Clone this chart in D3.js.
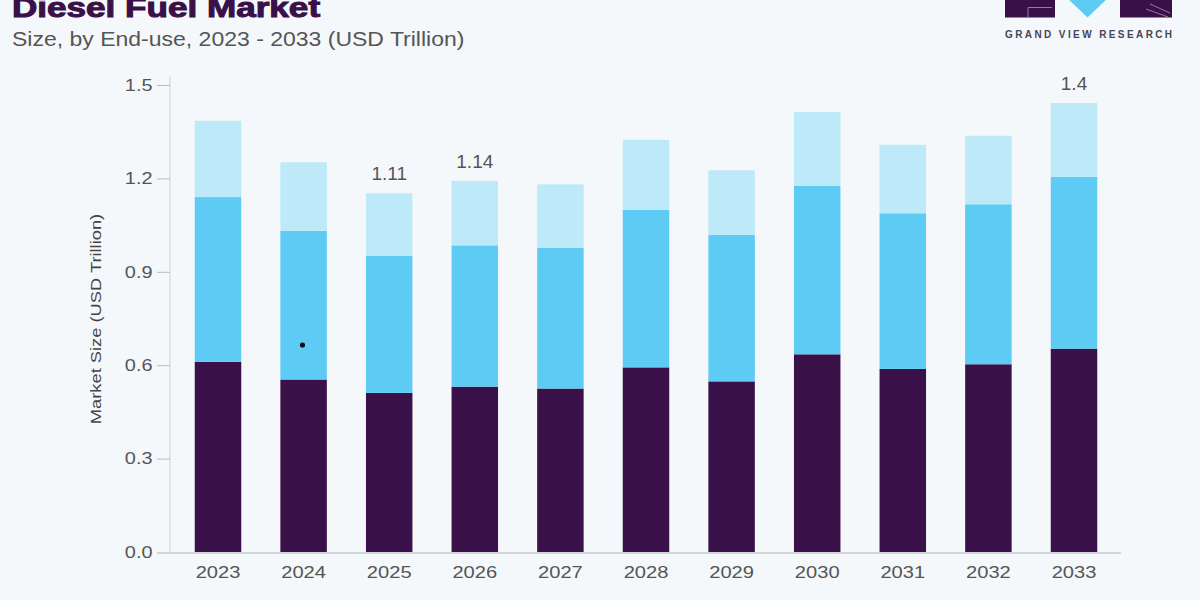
<!DOCTYPE html>
<html>
<head>
<meta charset="utf-8">
<script src="https://cdn.jsdelivr.net/npm/d3@7"></script>
<style>
  html, body { margin: 0; padding: 0; background: #f4f8fb; }
  svg { display: block; font-family: "Liberation Sans", Arial, sans-serif; }
</style>
</head>
<body>
<svg id="chart" width="1200" height="600"></svg>
<script>
// ---- data ----
const years = ["2023","2024","2025","2026","2027","2028","2029","2030","2031","2032","2033"];
const seriesNames = ["Segment A", "Segment B", "Segment C"];
const segmentA = [0.611, 0.554, 0.511, 0.531, 0.525, 0.593, 0.548, 0.635, 0.588, 0.603, 0.653];
const segmentB = [0.529, 0.477, 0.441, 0.454, 0.452, 0.506, 0.471, 0.541, 0.500, 0.514, 0.552];
const segmentC = [0.245, 0.221, 0.200, 0.207, 0.204, 0.225, 0.207, 0.237, 0.220, 0.220, 0.237];
const yTicks = [0.0, 0.3, 0.6, 0.9, 1.2, 1.5];
const labelYears = ["2025", "2026", "2033"];
const labelTexts = ["1.11", "1.14", "1.4"];
const colors = ["#3a1048", "#5ecbf4", "#bee9f9"];

const svg = d3.select("#chart");
svg.append("rect").attr("width", 1200).attr("height", 600).attr("fill", "#f4f8fb");

const SX = 1.22; // horizontal glyph stretch seen in the reference

// scales
const x = d3.scaleBand().domain(years).range([175.2, 1116.8]).paddingInner(0.457).paddingOuter(0.2285);
const y = d3.scaleLinear().domain([0, 1.5]).range([552, 85]);

// stacked data
const rows = years.map((yr, i) => ({ year: yr, a: segmentA[i], b: segmentB[i], c: segmentC[i] }));
const stack = d3.stack().keys(["a", "b", "c"]);
const layers = stack(rows);

svg.append("g").selectAll("g").data(layers).join("g")
  .attr("fill", (d, i) => colors[i])
  .selectAll("rect").data(d => d).join("rect")
  .attr("x", d => x(d.data.year))
  .attr("width", x.bandwidth())
  .attr("y", d => y(d[1]))
  .attr("height", d => y(d[0]) - y(d[1]));

// y axis
const yAxis = svg.append("g").attr("transform", "translate(170,0)")
  .call(d3.axisLeft(y).tickValues(yTicks).tickFormat(d3.format(".1f")).tickSize(13).tickSizeOuter(0).tickPadding(4));
yAxis.select(".domain").attr("d", `M0,76V${y(0)}`).attr("stroke", "#cfd3d6");
yAxis.selectAll(".tick line").attr("stroke", "#b8bcbf");
yAxis.selectAll(".tick text")
  .attr("x", -17.5 / SX)
  .attr("transform", `scale(${SX},1)`)
  .attr("font-size", 16.3)
  .attr("fill", "#555");

// baseline
svg.append("line").attr("x1", 157).attr("x2", 1121).attr("y1", 553).attr("y2", 553)
  .attr("stroke", "#d3d6d9").attr("stroke-width", 2);

// x axis labels
const xAxis = svg.append("g").attr("transform", `translate(0,${y(0)})`)
  .call(d3.axisBottom(x).tickSize(0).tickPadding(14));
xAxis.select(".domain").remove();
xAxis.selectAll(".tick text")
  .attr("transform", `scale(${SX},1)`)
  .attr("font-size", 16.5)
  .attr("fill", "#555");

// y axis title
svg.append("text")
  .attr("transform", `translate(101,319) rotate(-90) scale(${SX},1)`)
  .attr("text-anchor", "middle")
  .attr("font-size", 15)
  .attr("fill", "#444")
  .text("Market Size (USD Trillion)");

// value labels
const totals = years.map((yr, i) => segmentA[i] + segmentB[i] + segmentC[i]);
svg.append("g").selectAll("text").data(labelYears).join("text")
  .attr("x", d => x(d) + x.bandwidth() / 2)
  .attr("y", (d, i) => y(totals[years.indexOf(d)]) - 13)
  .attr("text-anchor", "middle")
  .attr("font-size", 19)
  .attr("fill", "#555")
  .text((d, i) => labelTexts[i]);

// speck in the reference
svg.append("circle").attr("cx", 302.5).attr("cy", 345).attr("r", 2.6).attr("fill", "#111");

// title and subtitle
svg.append("text")
  .attr("transform", `translate(12,17) scale(1.3,1)`)
  .attr("font-size", 27).attr("font-weight", "bold").attr("fill", "#3a1048")
  .attr("stroke", "#3a1048").attr("stroke-width", 1)
  .text("Diesel Fuel Market");
svg.append("text")
  .attr("transform", `translate(12,46) scale(1.18,1)`)
  .attr("font-size", 19.5).attr("fill", "#555")
  .text("Size, by End-use, 2023 - 2033 (USD Trillion)");

// logo
const logo = svg.append("g");
logo.append("rect").attr("x", 1005).attr("y", -4).attr("width", 50).attr("height", 21.5).attr("fill", "#3a1048");
logo.append("rect").attr("x", 1120).attr("y", -4).attr("width", 52).attr("height", 21.5).attr("fill", "#3a1048");
logo.append("polygon").attr("points", "1065,-4 1110,-4 1087.5,17.5").attr("fill", "#5ecbf4");
logo.append("path").attr("d", "M1028,17V7.5H1052").attr("stroke", "#8e7f9c").attr("stroke-width", 1).attr("fill", "none");
logo.append("path").attr("d", "M1150,4L1170,13M1146,9L1168,17").attr("stroke", "#8e7f9c").attr("stroke-width", 1).attr("fill", "none");
logo.append("text").attr("x", 1005).attr("y", 37.5)
  .attr("font-size", 10).attr("font-weight", "bold").attr("letter-spacing", 2.4).attr("fill", "#4a4458")
  .text("GRAND VIEW RESEARCH");
</script>
</body>
</html>
